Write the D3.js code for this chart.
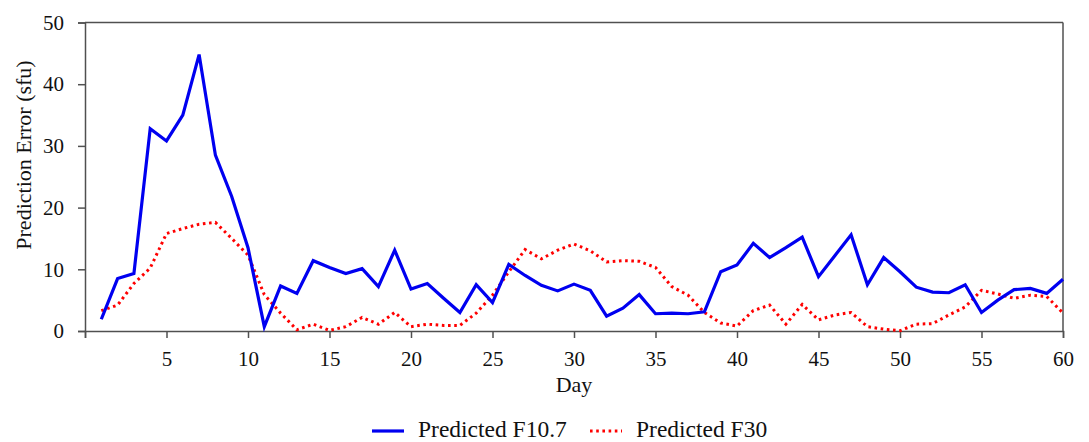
<!DOCTYPE html>
<html>
<head>
<meta charset="utf-8">
<script src="https://cdn.jsdelivr.net/npm/d3@7"></script>
</head>
<body style="margin:0; background:#fff">
<svg id="chart" width="1089" height="442"></svg>
<script>
// Daily prediction error (sfu) for days 1..60
const days = d3.range(1, 61);

const errorF107 = [
  1.9, 8.5, 9.3, 32.8, 30.8, 35.0, 44.8, 28.5, 21.8, 13.5,
  0.7, 7.3, 6.1, 11.4, 10.3, 9.3, 10.1, 7.2, 13.1, 6.8,
  7.7, 5.3, 3.0, 7.5, 4.6, 10.8, 9.0, 7.4, 6.5, 7.6,
  6.6, 2.4, 3.7, 5.9, 2.8, 2.9, 2.8, 3.1, 9.6, 10.7,
  14.2, 11.9, 13.5, 15.2, 8.8, 12.2, 15.6, 7.5, 11.9, 9.6,
  7.1, 6.3, 6.2, 7.5, 3.0, 5.0, 6.7, 6.9, 6.1, 8.4
];

const errorF30 = [
  3.3, 4.2, 7.7, 10.2, 15.8, 16.6, 17.3, 17.6, 15.0, 12.3,
  5.9, 2.9, 0.2, 1.1, 0.1, 0.7, 2.2, 1.1, 3.0, 0.7,
  1.1, 0.9, 0.9, 2.9, 5.8, 9.6, 13.2, 11.7, 13.1, 14.1,
  13.0, 11.2, 11.4, 11.3, 10.3, 7.2, 5.8, 3.0, 1.3, 0.8,
  3.3, 4.2, 1.1, 4.3, 1.8, 2.6, 3.0, 0.7, 0.3, 0.05,
  1.1, 1.2, 2.6, 3.9, 6.6, 6.0, 5.3, 5.8, 5.6, 2.9
];

const xTicks = [0, 5, 10, 15, 20, 25, 30, 35, 40, 45, 50, 55, 60];
const yTicks = [0, 10, 20, 30, 40, 50];

const seriesNames = ["Predicted F10.7", "Predicted F30"];

const serif = '"Liberation Serif", "Times New Roman", serif';
const margin = { top: 22.5, right: 26, bottom: 111, left: 85 };
const W = 1089, H = 442;
const svg = d3.select("#chart");

const x = d3.scaleLinear().domain([0, 60]).range([margin.left, W - margin.right]);
const y = d3.scaleLinear().domain([0, 50]).range([H - margin.bottom, margin.top]);

const axisColor = "#505050";

// frame: top and right edges
svg.append("line")
  .attr("x1", x(0)).attr("x2", x(60))
  .attr("y1", y(50)).attr("y2", y(50))
  .attr("stroke", axisColor).attr("stroke-width", 1.5);
svg.append("line")
  .attr("x1", x(60)).attr("x2", x(60))
  .attr("y1", y(50)).attr("y2", y(0))
  .attr("stroke", axisColor).attr("stroke-width", 1.5);

// x axis
const gx = svg.append("g")
  .attr("transform", `translate(0,${y(0)})`)
  .call(d3.axisBottom(x)
    .tickValues(xTicks)
    .tickFormat(d => d === 0 ? "" : d)
    .tickSizeOuter(0)
    .tickSize(7)
    .tickPadding(13));

// y axis
const gy = svg.append("g")
  .attr("transform", `translate(${x(0)},0)`)
  .call(d3.axisLeft(y)
    .tickValues(yTicks)
    .tickSizeOuter(0)
    .tickSize(7)
    .tickPadding(14));

[gx, gy].forEach(g => {
  g.select(".domain").attr("stroke", axisColor).attr("stroke-width", 1.5);
  g.selectAll(".tick line").attr("stroke", axisColor).attr("stroke-width", 1.5);
  g.selectAll(".tick text")
    .attr("fill", "#111")
    .style("font-family", serif)
    .style("font-size", "21px");
});

// axis titles
svg.append("text")
  .attr("x", (x(0) + x(60)) / 2)
  .attr("y", 392)
  .attr("text-anchor", "middle")
  .attr("fill", "#111")
  .style("font-family", serif)
  .style("font-size", "22px")
  .text("Day");

svg.append("text")
  .attr("transform", "translate(31,155) rotate(-90)")
  .attr("text-anchor", "middle")
  .attr("fill", "#111")
  .style("font-family", serif)
  .style("font-size", "22px")
  .text("Prediction Error (sfu)");

// series lines
const line = d3.line()
  .x((d, i) => x(days[i]))
  .y(d => y(d));

svg.append("path")
  .datum(errorF30)
  .attr("fill", "none")
  .attr("stroke", "#ff0000")
  .attr("stroke-width", 3)
  .attr("stroke-dasharray", "2.6 3.6")
  .attr("d", line);

svg.append("path")
  .datum(errorF107)
  .attr("fill", "none")
  .attr("stroke", "#0000f0")
  .attr("stroke-width", 3.2)
  .attr("stroke-linejoin", "miter")
  .attr("d", line);

// legend
const legendY = 431;
const legend = svg.append("g");
const items = [
  { name: seriesNames[0], x0: 372, color: "#0000f0", dash: null, width: 3.2 },
  { name: seriesNames[1], x0: 590, color: "#ff0000", dash: "2.6 3.6", width: 3 }
];
items.forEach(it => {
  legend.append("line")
    .attr("x1", it.x0).attr("x2", it.x0 + 32)
    .attr("y1", legendY).attr("y2", legendY)
    .attr("stroke", it.color)
    .attr("stroke-width", it.width)
    .attr("stroke-dasharray", it.dash);
  legend.append("text")
    .attr("x", it.x0 + 46)
    .attr("y", legendY + 6)
    .attr("fill", "#111")
    .style("font-family", serif)
    .style("font-size", "23.5px")
    .text(it.name);
});
</script>
</body>
</html>
